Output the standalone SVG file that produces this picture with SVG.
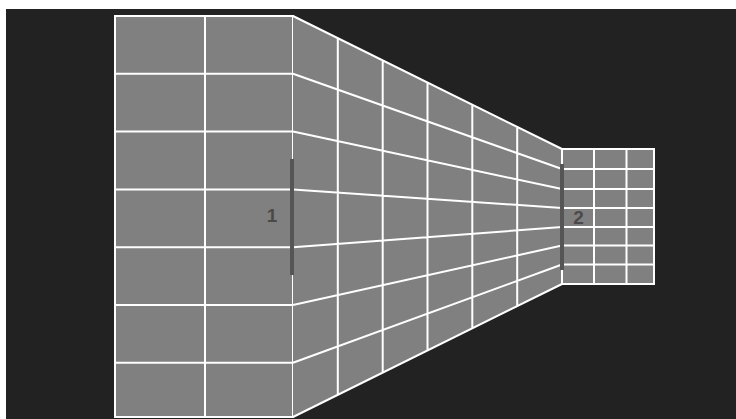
<svg xmlns="http://www.w3.org/2000/svg" width="736" height="419" viewBox="0 0 736 419">
  <style>
    .face { fill: #808080; stroke: none; }
    .grid { stroke: #ffffff; stroke-width: 2; fill: none; }
    .bar { stroke: #555555; stroke-width: 4; }
    .lbl { font-family: "Liberation Sans", Arial, sans-serif; font-weight: bold; font-size: 19px; fill: #4a4a4a; text-anchor: middle; }
  </style>
  <rect x="0" y="0" width="736" height="419" fill="#ffffff"/>
  <rect x="6" y="9" width="730" height="410" fill="#222222"/>

  <g id="front-wall">
    <rect class="face" x="115" y="16" width="178" height="401"/>
    <path class="grid" d="M115,16 H293 V417 H115 Z M205,16 V417 M115,73.8 H293 M115,131.6 H293 M115,189.4 H293 M115,247.2 H293 M115,305 H293 M115,362.8 H293"/>
  </g>

  <g id="corridor">
    <polygon class="face" points="293,16 562,149 562,284 293,417"/>
    <path class="grid" d="M293,16 L562,149 M293,417 L562,284
      M293,73.8 L562,169 M293,131.6 L562,189 M293,189.4 L562,208 M293,247.2 L562,227 M293,305 L562,245.5 M293,362.8 L562,264.5
      M337.8,38.2 V394.8 M382.7,60.3 V372.7 M427.5,82.5 V350.5 M472.3,104.7 V328.3 M517.2,126.8 V306.2"/>
  </g>

  <g id="back-wall">
    <rect class="face" x="562" y="149" width="92" height="135"/>
    <path class="grid" d="M562,149 H654 V284 H562 Z M594,149 V284 M626.5,149 V284
      M562,169 H654 M562,189 H654 M562,208 H654 M562,227 H654 M562,245.5 H654 M562,264.5 H654"/>
  </g>

  <g id="marker-1">
    <line class="bar" x1="292" y1="159" x2="292" y2="275"/>
    <text class="lbl" x="272" y="222">1</text>
  </g>

  <g id="marker-2">
    <line class="bar" x1="562" y1="164" x2="562" y2="270"/>
    <text class="lbl" x="578.5" y="224">2</text>
  </g>
</svg>
